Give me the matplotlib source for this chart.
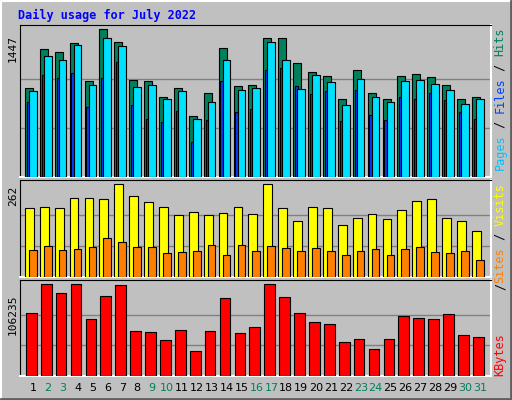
import matplotlib
matplotlib.use("Agg")
import matplotlib.pyplot as plt
from matplotlib.patches import Rectangle
from matplotlib.lines import Line2D

days = list(range(1, 32))
weekend = [2, 3, 9, 10, 16, 17, 23, 24, 30, 31]
hits = [868, 1251, 1221, 1310, 936, 1447, 1319, 946, 936, 779, 868, 602, 818, 1260, 887, 897,
        1359, 1359, 1113, 1025, 985, 760, 1044, 818, 760, 985, 1005, 976, 897, 760, 779]
files = [841, 1182, 1143, 1290, 897, 1359, 1280, 877, 897, 760, 841, 573, 730, 1143, 848, 868,
         1319, 1143, 858, 995, 927, 710, 956, 779, 730, 936, 946, 907, 848, 720, 760]
pages = [730, 995, 966, 1015, 681, 966, 1123, 710, 573, 543, 642, 347, 563, 936, 632, 671,
         1044, 1064, 887, 809, 838, 553, 848, 612, 563, 779, 760, 818, 750, 632, 573]
visits = [194, 199, 194, 222, 222, 219, 262, 228, 211, 199, 174, 185, 174, 182, 199, 177,
          262, 194, 159, 199, 194, 148, 168, 177, 165, 188, 214, 219, 168, 159, 131]
sites = [77, 88, 77, 80, 85, 111, 100, 85, 85, 68, 71, 74, 91, 63, 91, 74,
         88, 83, 74, 83, 74, 63, 74, 80, 63, 80, 85, 71, 68, 74, 48]
kbytes = [72373, 106235, 95720, 106235, 65370, 92220, 105060, 51360, 50190, 42020, 52530,
          29180, 51360, 89880, 49030, 56030, 106235, 91050, 72373, 61870, 59530, 39690,
          43190, 31520, 43190, 68870, 66540, 65370, 71210, 46690, 45520]

W, H = 512, 400
fig = plt.figure(figsize=(W/100, H/100), dpi=100, facecolor="#C0C0C0")
ff = "DejaVu Sans Mono"

fig.add_artist(Line2D([1/W, 1/W, 1-1/W], [0, 1-1/H, 1-1/H], color="white", lw=1.5, transform=fig.transFigure))
fig.add_artist(Line2D([1/W, 1-1/W, 1-1/W], [1/H, 1/H, 1-1/H], color="#606060", lw=2, transform=fig.transFigure))

fig.text(18/W, 1-15/H, "Daily usage for July 2022", color="#0000FF", fontsize=8.5,
         fontweight="bold", family=ff, va="center", ha="left")

def mkax(top, bot):
    ax = fig.add_axes([20/W, 1-bot/H, 471/W, (bot-top)/H])
    ax.set_facecolor("#C0C0C0")
    ax.set_xlim(0.13, 31.74)
    ax.set_xticks([]); ax.set_yticks([])
    for s in ["top", "left"]:
        ax.spines[s].set_color("black")
    for s in ["bottom", "right"]:
        ax.spines[s].set_color("white")
        ax.spines[s].set_linewidth(1.5)
    return ax

def bars(ax, vals, lo, hi, color):
    for d, v in zip(days, vals):
        ax.add_patch(Rectangle((d+lo, 0), hi-lo, v, facecolor=color, edgecolor="black", lw=0.8, zorder=3))

def grid(ax, m):
    for f in (1/3, 2/3):
        ax.axhline(m*f, color="#808080", lw=1, zorder=1)

ax1 = mkax(25, 177)
ax1.set_ylim(0, 1489)
grid(ax1, max(hits))
bars(ax1, hits, -0.54, 0.0, "#00805C")
bars(ax1, pages, -0.42, -0.22, "#0040FF")
bars(ax1, files, -0.27, 0.25, "#00E0FF")

ax2 = mkax(180, 277)
ax2.set_ylim(0, 274)
grid(ax2, max(visits))
bars(ax2, visits, -0.54, 0.05, "#FFFF00")
bars(ax2, sites, -0.27, 0.25, "#FF8000")

ax3 = mkax(280, 376)
ax3.set_ylim(0, 110670)
grid(ax3, max(kbytes))
bars(ax3, kbytes, -0.47, 0.25, "#FF0000")

fig.text(13/W, 1-48/H, str(max(hits)), rotation=90, fontsize=8, family=ff, ha="center", va="center")
fig.text(13/W, 1-196/H, str(max(visits)), rotation=90, fontsize=8, family=ff, ha="center", va="center")
fig.text(13/W, 1-315/H, str(max(kbytes)), rotation=90, fontsize=8, family=ff, ha="center", va="center")

FS = 8.5
CH = FS * 100/72 * 0.602
def rlabel(parts, ytop):
    # parts listed bottom to top; ytop is pixel y where the top of text ends
    total = sum(len(t) for t, c in parts)
    y = ytop + total*CH
    for t, c in parts:
        n = len(t)
        if t.strip():
            fig.text(500/W, 1-(y - n*CH/2)/H, t, rotation=90, color=c, fontsize=FS, family=ff,
                     ha="center", va="center")
        y -= n*CH
rlabel([("Pages", "#00C0FF"), (" / ", "#000000"), ("Files", "#0040FF"), (" / ", "#000000"), ("Hits", "#00805C")], 28)
rlabel([("/", "#000000"), ("Sites", "#FF8000"), (" / ", "#000000"), ("Visits", "#FFFF00")], 183)
fig.text(500/W, 1-(183 + 14*CH/2)/H, "/", rotation=90, fontsize=FS, family=ff, ha="center", va="center", alpha=0)
rlabel([("KBytes", "#FF0000")], 333)

for d in days:
    x = 33 + (d-1)*14.9
    fig.text(x/W, 1-388/H, str(d), ha="center", va="center", fontsize=8,
             color="#00805C" if d in weekend else "black")

fig.savefig("out.png", dpi=100, facecolor=fig.get_facecolor())
